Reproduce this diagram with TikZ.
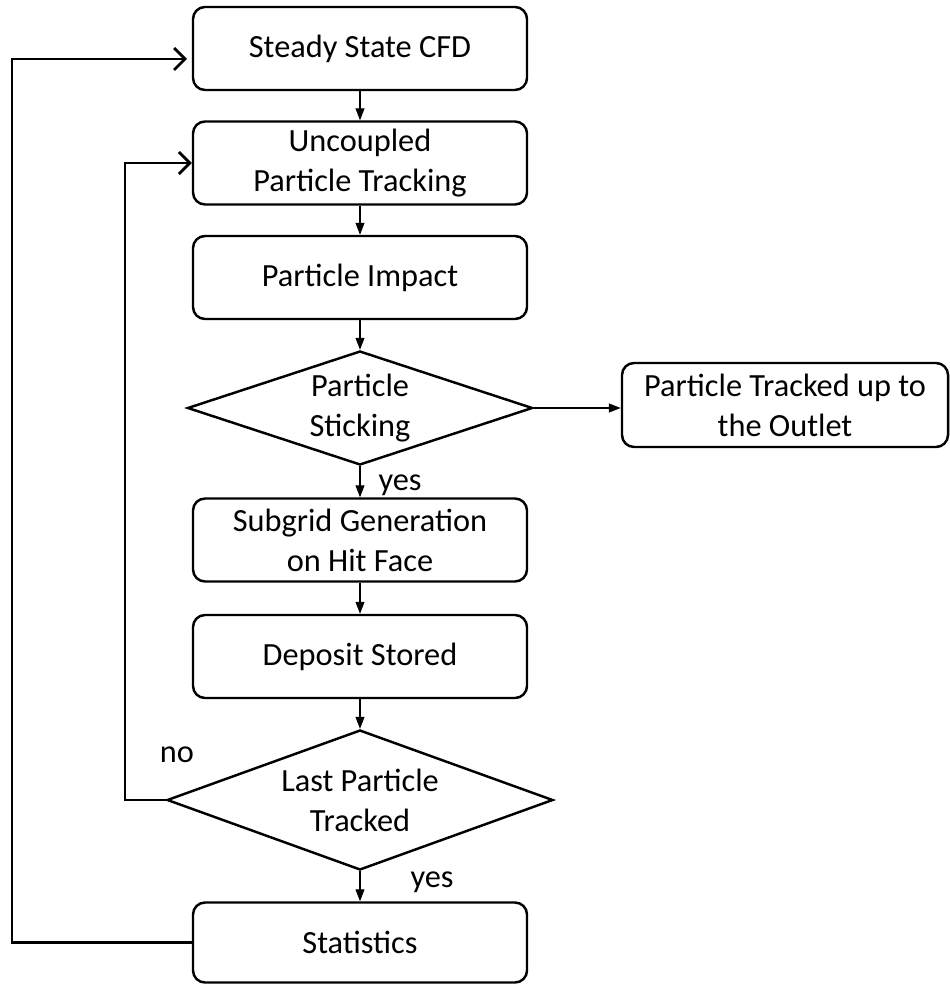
\documentclass[tikz,border=0pt]{standalone}
\usepackage{fontspec}
\setmainfont{Carlito}
\usetikzlibrary{shapes.geometric,arrows.meta,positioning}
\tikzset{
  box/.style={draw,line width=1.4pt,rounded corners=2.4mm,minimum width=6.68cm,minimum height=1.66cm,inner ysep=2pt,align=center,font=\fontsize{18.4}{22.7}\selectfont},
  decision/.style={draw,diamond,line width=1.4pt,inner sep=0pt,align=center,font=\fontsize{18.4}{22.7}\selectfont},
  flow/.style={-{Triangle[length=2.4mm,width=1.8mm]},line width=0.6pt},
  loopline/.style={-{Straight Barb[length=2.2mm,width=4.4mm]},line width=1.6pt},
  lbl/.style={anchor=base,font=\fontsize{18.4}{22.7}\selectfont}
}
\begin{document}
\begin{tikzpicture}
    \useasboundingbox (0,0) rectangle (18.98,-19.7);
    \node[box] (cfd) at (7.2,-0.97) {Steady State CFD};
    \node[box] (track) at (7.2,-3.26) {Uncoupled\\Particle Tracking};
    \node[box] (impact) at (7.2,-5.55) {Particle Impact};
    \node[decision,aspect=3,minimum width=6.9cm,minimum height=2.28cm] (stick) at (7.2,-8.16) {Particle\\Sticking};
    \node[box,minimum width=6.52cm,minimum height=1.68cm] (outlet) at (15.7,-8.1) {Particle Tracked up to\\the Outlet};
    \node[box] (subgrid) at (7.2,-10.8) {Subgrid Generation\\on Hit Face};
    \node[box] (deposit) at (7.2,-13.13) {Deposit Stored};
    \node[decision,aspect=2.76,minimum width=7.72cm,minimum height=2.8cm] (last) at (7.2,-16.0) {Last Particle\\Tracked};
    \node[box,minimum height=1.6cm] (stats) at (7.2,-18.85) {Statistics};
    \node[lbl] (yesa) at (8.0,-9.8) {yes};
    \node[lbl] (yesb) at (8.64,-17.74) {yes};
    \node[lbl] (no) at (3.54,-15.24) {no};
    \coordinate (oleft) at (0.24,-1.18);
    \coordinate (cfdin) at (3.74,-1.18);
    \coordinate (ileft) at (2.5,-3.26);
    \draw[flow] (cfd) -- (track);
    \draw[flow] (track) -- (impact);
    \draw[flow] (impact) -- (stick);
    \draw[flow] (stick) -- (subgrid);
    \draw[flow] (stick.east) -- (stick.east -| outlet.west);
    \draw[flow] (subgrid) -- (deposit);
    \draw[flow] (deposit) -- (last);
    \draw[flow] (last) -- (stats);
    \draw[loopline] (last.west) -| (ileft) -- (track.west);
    \draw[loopline] (stats.west) -| (oleft) -- (cfdin);
\end{tikzpicture}
\end{document}
